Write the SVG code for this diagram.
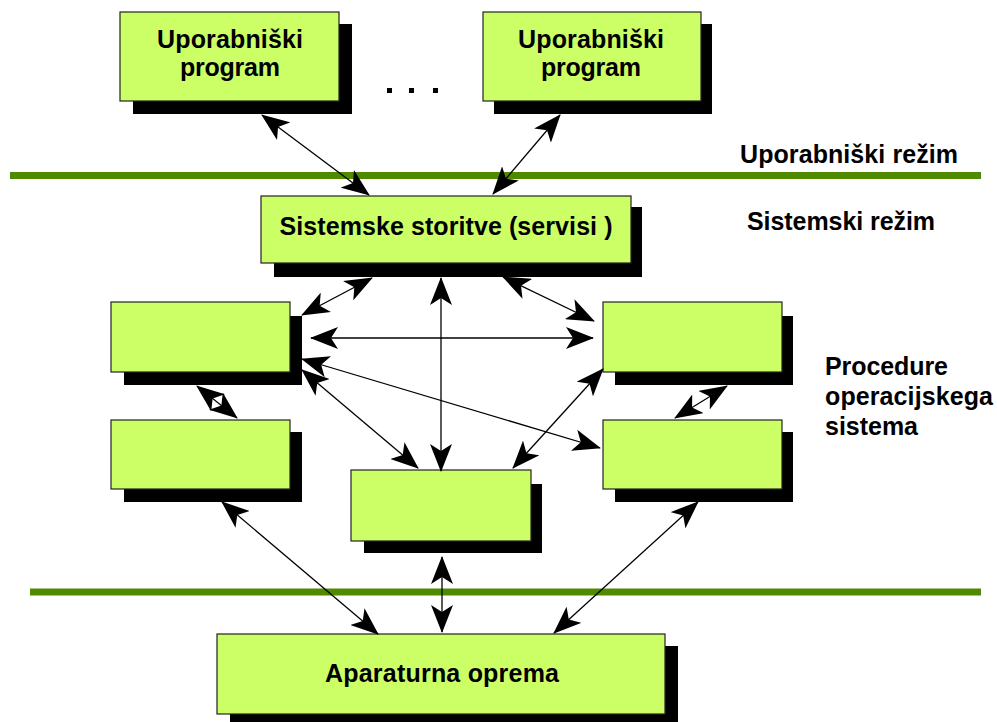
<svg xmlns="http://www.w3.org/2000/svg" width="997" height="722" viewBox="0 0 997 722">
  <style>
    .box { fill: #ccff66; stroke: #222; stroke-width: 1.2; }
    .shadow { fill: #000; }
    .lbl { font-family: "Liberation Sans", Arial, sans-serif; font-weight: bold; font-size: 25px; fill: #000; }
    .mid { text-anchor: middle; }
    .sep { stroke: #508a00; stroke-width: 7; }
    .conn { stroke: #000; stroke-width: 1.3; fill: none; marker-start: url(#head); marker-end: url(#head); }
  </style>
  <defs>
    <marker id="head" markerUnits="userSpaceOnUse" markerWidth="28" markerHeight="22" viewBox="0 0 28 22" refX="27" refY="11" orient="auto-start-reverse">
      <path d="M0,0 L28,11 L0,22 L7,11 Z" fill="#000"/>
    </marker>
  </defs>

  <rect width="997" height="722" fill="#fff"/>

  <!-- mode separators -->
  <line class="sep" x1="10" y1="175.5" x2="981" y2="175.5"/>
  <line class="sep" x1="30" y1="592" x2="981" y2="592"/>

  <!-- side labels -->
  <text class="lbl" x="740" y="163" textLength="218" lengthAdjust="spacing">Uporabniški režim</text>
  <text class="lbl" x="747" y="230" textLength="188" lengthAdjust="spacing">Sistemski režim</text>
  <text class="lbl" x="825" y="375" textLength="123" lengthAdjust="spacing">Procedure</text>
  <text class="lbl" x="825" y="405" textLength="168" lengthAdjust="spacing">operacijskega</text>
  <text class="lbl" x="825" y="435" textLength="93" lengthAdjust="spacing">sistema</text>

  <!-- ellipsis between programs -->
  <g id="dots" fill="#000">
    <rect x="387" y="88" width="5" height="5"/>
    <rect x="409" y="88" width="5" height="5"/>
    <rect x="433" y="88" width="5" height="5"/>
  </g>

  <g id="prog1">
    <rect class="shadow" x="133" y="24" width="219" height="90"/>
    <rect class="box" x="120" y="12" width="219" height="89"/>
    <text class="lbl mid" x="230" y="48" textLength="146" lengthAdjust="spacing">Uporabniški</text>
    <text class="lbl mid" x="230" y="76" textLength="100" lengthAdjust="spacing">program</text>
  </g>

  <g id="prog2">
    <rect class="shadow" x="494" y="24" width="218" height="90"/>
    <rect class="box" x="483" y="12" width="218" height="89"/>
    <text class="lbl mid" x="591" y="48" textLength="146" lengthAdjust="spacing">Uporabniški</text>
    <text class="lbl mid" x="591" y="76" textLength="100" lengthAdjust="spacing">program</text>
  </g>

  <g id="services">
    <rect class="shadow" x="274" y="207" width="368" height="70"/>
    <rect class="box" x="261" y="196" width="370" height="67"/>
    <text class="lbl mid" x="446" y="235" textLength="333" lengthAdjust="spacing">Sistemske storitve (servisi )</text>
  </g>

  <g id="procLeftTop">
    <rect class="shadow" x="124" y="316" width="178" height="69"/>
    <rect class="box" x="111" y="302" width="179" height="70"/>
  </g>

  <g id="procLeftBottom">
    <rect class="shadow" x="124" y="432" width="178" height="70"/>
    <rect class="box" x="111" y="420" width="179" height="69"/>
  </g>

  <g id="procRightTop">
    <rect class="shadow" x="615" y="316" width="178" height="69"/>
    <rect class="box" x="603" y="302" width="179" height="70"/>
  </g>

  <g id="procRightBottom">
    <rect class="shadow" x="615" y="432" width="178" height="70"/>
    <rect class="box" x="603" y="420" width="179" height="69"/>
  </g>

  <g id="procCenter">
    <rect class="shadow" x="364" y="484" width="178" height="69"/>
    <rect class="box" x="351" y="470" width="180" height="71"/>
  </g>

  <g id="hardware">
    <rect class="shadow" x="230" y="646" width="448" height="80"/>
    <rect class="box" x="217" y="634" width="448" height="80"/>
    <text class="lbl mid" x="442" y="682" textLength="234" lengthAdjust="spacing">Aparaturna oprema</text>
  </g>

  <g id="connectors">
    <line class="conn" x1="262" y1="115" x2="369" y2="195"/>
    <line class="conn" x1="560" y1="115" x2="493" y2="194"/>
    <line class="conn" x1="372" y1="278" x2="302" y2="315"/>
    <line class="conn" x1="503" y1="277" x2="594" y2="321"/>
    <line class="conn" x1="441" y1="278" x2="441" y2="471"/>
    <line class="conn" x1="311" y1="338" x2="593" y2="338"/>
    <line class="conn" x1="302" y1="359" x2="600" y2="448"/>
    <line class="conn" x1="302" y1="370" x2="418" y2="468"/>
    <line class="conn" x1="603" y1="369" x2="513" y2="468"/>
    <line class="conn" x1="197" y1="386" x2="237" y2="418"/>
    <line class="conn" x1="727" y1="386" x2="675" y2="418"/>
    <line class="conn" x1="222" y1="502" x2="378" y2="634"/>
    <line class="conn" x1="442" y1="557" x2="442" y2="632"/>
    <line class="conn" x1="698" y1="502" x2="554" y2="633"/>
  </g>
</svg>
